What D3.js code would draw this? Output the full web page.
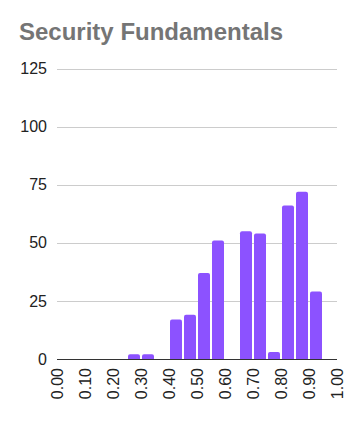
<!DOCTYPE html>
<html><head><meta charset="utf-8">
<script src="https://cdn.jsdelivr.net/npm/d3@7"></script>
<style>html,body{margin:0;padding:0;background:#fff;}</style>
</head><body>
<script>
const title = "Security Fundamentals";
const binStarts = [0.00,0.05,0.10,0.15,0.20,0.25,0.30,0.35,0.40,0.45,0.50,0.55,0.60,0.65,0.70,0.75,0.80,0.85,0.90,0.95];
const counts    = [0,   0,   0,   0,   0,   2,   2,   0,   17,  19,  37,  51,  0,   55,  54,  3,   66,  72,  29,  0];
const binWidth = 0.05;
const yTicks = [0,25,50,75,100,125];
const xTickValues = [0,0.1,0.2,0.3,0.4,0.5,0.6,0.7,0.8,0.9,1.0];
const xTickLabels = ["0.00","0.10","0.20","0.30","0.40","0.50","0.60","0.70","0.80","0.90","1.00"];

const W = 355, H = 421;
const svg = d3.select("body").append("svg").attr("width",W).attr("height",H);
const x = d3.scaleLinear().domain([0,1]).range([57,337]);
const y = d3.scaleLinear().domain([0,125]).range([359,68.5]);

svg.append("text").attr("x",19).attr("y",40)
  .attr("font-family","'Liberation Sans', Arial, sans-serif").attr("font-weight","bold")
  .attr("font-size",24).attr("fill","#757575").text(title);

// grid
svg.append("g").selectAll("line").data(yTicks.filter(d=>d>0)).join("line")
  .attr("x1",57).attr("x2",337).attr("y1",d=>Math.round(y(d))+0.5).attr("y2",d=>Math.round(y(d))+0.5)
  .attr("stroke","#cccccc").attr("stroke-width",1);

// y labels
svg.append("g").selectAll("text").data(yTicks).join("text")
  .attr("x",47).attr("y",d=>y(d)).attr("dy","0.35em").attr("text-anchor","end")
  .attr("font-family","'Liberation Sans', Arial, sans-serif").attr("font-size",16).attr("fill","#222")
  .text(d=>d);

// bars
const r = 2;
const data = binStarts.map((b,i)=>({b, v:counts[i]})).filter(d=>d.v>0);
svg.append("g").selectAll("path").data(data).join("path")
  .attr("fill","#8c52ff")
  .attr("d",d=>{
    const x0 = x(d.b)+1, x1 = x(d.b+binWidth)-1, y0 = y(0), y1 = y(d.v);
    const rr = Math.min(r,(y0-y1)/2);
    return `M${x0},${y0}V${y1+rr}Q${x0},${y1} ${x0+rr},${y1}H${x1-rr}Q${x1},${y1} ${x1},${y1+rr}V${y0}Z`;
  });

// baseline
svg.append("line").attr("x1",57).attr("x2",337).attr("y1",359.5).attr("y2",359.5)
  .attr("stroke","#333").attr("stroke-width",1);

// x labels
svg.append("g").selectAll("text").data(xTickValues).join("text")
  .attr("transform",d=>`translate(${x(d)},368) rotate(-90)`)
  .attr("dy","0.35em").attr("text-anchor","end")
  .attr("font-family","'Liberation Sans', Arial, sans-serif").attr("font-size",16).attr("fill","#222")
  .text((d,i)=>xTickLabels[i]);
</script>
</body></html>
